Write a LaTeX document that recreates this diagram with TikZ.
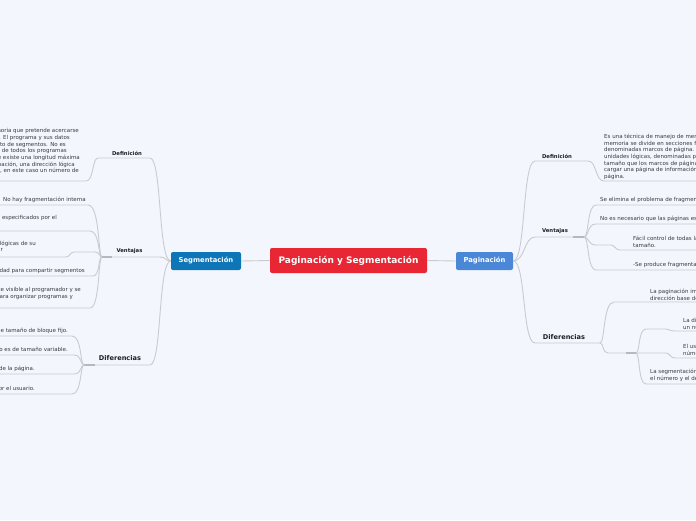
\documentclass[tikz,border=0pt]{standalone}
\usepackage{fontspec}
\setmainfont{DejaVu Sans}
\definecolor{bgc}{RGB}{244,246,254}
\definecolor{redc}{RGB}{233,38,51}
\definecolor{segc}{RGB}{14,117,182}
\definecolor{pagc}{RGB}{75,135,215}
\definecolor{linec}{RGB}{201,203,209}
\definecolor{thickc}{RGB}{184,184,188}
\definecolor{txtc}{RGB}{58,58,62}
\definecolor{lblc}{RGB}{30,30,34}
\begin{document}
\begin{tikzpicture}[x=1pt,y=-1pt,
  conn/.style={draw=linec, line width=0.9pt},
  thickseg/.style={draw=thickc, line width=2.2pt},
  txt/.style={font=\fontsize{5.5}{6.67}\selectfont, text=txtc, inner sep=0pt},
  lbl/.style={font=\fontsize{5.3}{6.4}\selectfont\bfseries, text=lblc, inner sep=0pt},
  biglbl/.style={font=\fontsize{6.6}{8}\selectfont\bfseries, text=lblc, inner sep=0pt},
  box/.style={rounded corners=2pt, text=white, font=\fontsize{6.8}{8}\selectfont\bfseries, minimum height=18pt, inner sep=0pt}]
\useasboundingbox (0,0) rectangle (696,520);
\clip (0,0) rectangle (696,520);
\fill[bgc] (0,0) rectangle (696,520);

% main nodes
\node[box, fill=redc, minimum width=157pt, minimum height=25pt, font=\fontsize{9}{10}\selectfont\bfseries] (root) at (348.5,260.5) {Paginación y Segmentación};
\node[box, fill=segc, minimum width=70pt] (seg) at (206,261) {Segmentación};
\node[box, fill=pagc, minimum width=57pt] (pag) at (484.5,261) {Paginación};
\draw[conn] (seg.east) -- (root.west);
\draw[conn] (root.east) -- (pag.west);

% ---------- LEFT: Definicion
\node[lbl] (ldef) at (127,153) {Definición};
\coordinate (ldefA) at (150,158);
\coordinate (ldefB) at (98,158);
\coordinate (ldefE) at (0,181);
\draw[conn] (seg.west) .. controls (158,261) and (162,158) .. (ldefA) -- (ldefB) .. controls (92,158) and (94,181) .. (86,181) -- (ldefE);
\node[txt, align=right, anchor=north east] (ldeft) at (80,128.5) {memoria que pretende acercarse\makebox[1pt]{}\\ usuario. El programa y sus datos\makebox[10pt]{}\\ conjunto de segmentos. No es\makebox[14pt]{}\\ segmentos de todos los programas\makebox[13pt]{}\\ aunque existe una longitud máxima\\ paginación, una dirección lógica\makebox[5pt]{}\\ partes, en este caso un número de\makebox[1pt]{}};

% ---------- LEFT: Ventajas
\node[lbl] (lven) at (129.5,251) {Ventajas};
\coordinate (lvenR) at (160,257);
\coordinate (lvenL) at (102,257);
\draw[conn] (seg.west) .. controls (165,261) and (166,257) .. (lvenR) -- (lvenL);
\draw[thickseg] (lvenL) -- ++(10,0);

\node[txt, anchor=base west] (lv1) at (3,201) {No hay fragmentación interna};
\coordinate (lv1E) at (0,205);
\draw[conn] (lvenL) .. controls (98,257) and (100,205) .. (88,205) -- (lv1E);

\node[txt, anchor=base east] (lv2) at (57,219.5) {segmentos especificados por el};
\coordinate (lv2E) at (0,231);
\draw[conn] (lvenL) .. controls (98,257) and (100,231) .. (90,231) -- (lv2E);

\node[txt, align=right, anchor=north east] (lv3) at (36,240.5) {unidades lógicas de su\\ programador\makebox[33pt]{}};
\coordinate (lv3E) at (0,257);
\draw[conn] (lvenL) .. controls (99,257) and (100,252) .. (95,252) -- (74,252) .. controls (70,252) and (70,257) .. (66,257) -- (lv3E);

\node[txt, anchor=base east] (lv4) at (85,272) {Facilidad para compartir segmentos};
\coordinate (lv4E) at (0,276);
\draw[conn] (lvenL) .. controls (98,257) and (100,276) .. (93,276) -- (lv4E);

\node[txt, align=right, anchor=north east] (lv5) at (81,287.5) {Se hace visible al programador y se\\ utiliza para organizar programas y\makebox[8pt]{}};
\coordinate (lv5E) at (0,308);
\draw[conn] (lvenL) .. controls (98,257) and (100,308) .. (90,308) -- (lv5E);

% ---------- LEFT: Diferencias
\node[biglbl] (ldif) at (120,358) {Diferencias};
\coordinate (ldifR) at (150,365);
\coordinate (ldifL) at (84,365);
\draw[conn] (seg.west) .. controls (158,261) and (162,365) .. (ldifR) -- (ldifL);
\draw[thickseg] (ldifL) -- ++(11,0);

\node[txt, anchor=base east] (ld1) at (68,332) {memoria de tamaño de bloque fijo.};
\coordinate (ld1E) at (0,336);
\draw[conn] (ldifL) .. controls (80,365) and (82,336) .. (72,336) -- (ld1E);
\node[txt, anchor=base east] (ld2) at (68,351) {segmento es de tamaño variable.};
\coordinate (ld2E) at (0,355);
\draw[conn] (ldifL) .. controls (80,365) and (82,355) .. (74,355) -- (ld2E);
\node[txt, anchor=base east] (ld3) at (35,370) {tamaño de la página.};
\coordinate (ld3E) at (0,374);
\draw[conn] (ldifL) .. controls (80,365) and (82,374) .. (74,374) -- (ld3E);
\node[txt, anchor=base east] (ld4) at (35,390) {definido por el usuario.};
\coordinate (ld4E) at (0,394);
\draw[conn] (ldifL) .. controls (80,365) and (82,394) .. (72,394) -- (ld4E);

% ---------- RIGHT: Definicion
\node[lbl] (rdef) at (557,156) {Definición};
\coordinate (rdefL) at (535,161);
\coordinate (rdefR) at (588,161);
\coordinate (rdefE) at (696,181);
\draw[conn] (pag.east) .. controls (526,261) and (522,161) .. (rdefL) -- (rdefR) .. controls (597,161) and (595,181) .. (604,181) -- (rdefE);
\node[txt, align=left, anchor=north west] (rdeft) at (604,134) {Es una técnica de manejo de memoria, en la cual el\\ memoria se divide en secciones físicas de igual\\ denominadas marcos de página.\\ unidades lógicas, denominadas páginas, que\\ tamaño que los marcos de página. De esta\\ cargar una página de información en cualquier\\ página.};

% ---------- RIGHT: Ventajas
\node[lbl] (rven) at (555,231) {Ventajas};
\coordinate (rvenL) at (535,237);
\coordinate (rvenR) at (584,237);
\draw[conn] (pag.east) .. controls (525,261) and (524,237) .. (rvenL) -- (rvenR);
\draw[thickseg] (rvenR) -- ++(-11,0);

\node[txt, anchor=base west] (rv1) at (600,201) {Se elimina el problema de fragmentación externa};
\coordinate (rv1E) at (696,205);
\draw[conn] (rvenR) .. controls (589,237) and (587,205) .. (596,205) -- (rv1E);
\node[txt, anchor=base west] (rv2) at (600,220) {No es necesario que las páginas estén contiguas};
\coordinate (rv2E) at (696,224);
\draw[conn] (rvenR) .. controls (589,237) and (587,224) .. (596,224) -- (rv2E);
\node[txt, align=left, anchor=north west] (rv3) at (633,236) {Fácil control de todas las páginas\\ tamaño.};
\coordinate (rv3E) at (696,250);
\draw[conn] (rvenR) .. controls (589,237) and (588,245) .. (596,245) -- (611,245) .. controls (615,245) and (615,250) .. (620,250) -- (rv3E);
\node[txt, anchor=base west] (rv4) at (633,266) {-Se produce fragmentación interna};
\coordinate (rv4E) at (696,270);
\draw[conn] (rvenR) .. controls (589,237) and (587,270) .. (596,270) -- (rv4E);

% ---------- RIGHT: Diferencias
\node[biglbl] (rdif) at (564,337) {Diferencias};
\coordinate (rdifL) at (535,343);
\coordinate (rdifR) at (600,343);
\draw[conn] (pag.east) .. controls (526,261) and (522,343) .. (rdifL) -- (rdifR);

\node[txt, align=left, anchor=north west] (rd1) at (650,289) {La paginación implementa\\ dirección base de};
\coordinate (rd1E) at (696,302);
\draw[conn] (rdifR) .. controls (605,343) and (603,302) .. (614,302) -- (rd1E);

\coordinate (rsub) at (636,353);
\coordinate (rd3E) at (696,358);
\draw[conn] (rdifR) .. controls (604,343) and (602,353) .. (608,353) -- (rsub) -- (666,353) .. controls (670,353) and (670,358) .. (675,358) -- (rd3E);
\draw[thickseg] (rsub) -- ++(-10,0);

\node[txt, align=left, anchor=north west] (rd2) at (683,318) {La dirección\\ un número};
\coordinate (rd2E) at (696,331);
\draw[conn] (rsub) .. controls (640,353) and (638,329) .. (646,329) -- (666,329) .. controls (669,329) and (670,331) .. (674,331) -- (rd2E);
\node[txt, align=left, anchor=north west] (rd3) at (683,344) {El usuario\\ número};
\node[txt, align=left, anchor=north west] (rd4) at (650,369) {La segmentación\\ el número y el desplazamiento};
\coordinate (rd4E) at (696,384);
\draw[conn] (rsub) .. controls (640,353) and (638,384) .. (646,384) -- (rd4E);
\end{tikzpicture}
\end{document}
